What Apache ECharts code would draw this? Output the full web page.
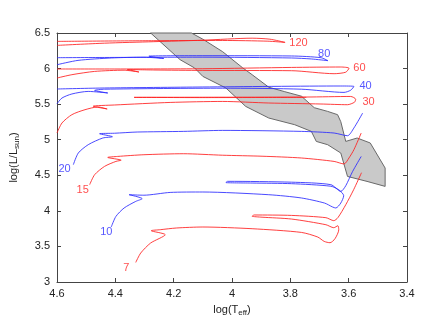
<!DOCTYPE html>
<html>
<head>
<meta charset="utf-8">
<script src="https://cdn.jsdelivr.net/npm/echarts@6/dist/echarts.min.js"></script>
<style>
  html, body { margin: 0; padding: 0; background: #fff; }
  #chart { width: 436px; height: 328px; }
</style>
</head>
<body>
<div id="chart"></div>
<script>
// evolutionary tracks: [log Teff, log L]
const track7 = [[4.330,3.275],[4.313,3.407],[4.279,3.548],[4.229,3.665],[4.277,3.721],[4.246,3.735],[4.191,3.759],[4.100,3.773],[3.931,3.749],[3.762,3.697],[3.706,3.632],[3.684,3.571],[3.664,3.552],[3.647,3.608],[3.634,3.735],[3.637,3.791],[3.651,3.763],[3.678,3.805],[3.796,3.885],[3.897,3.911],[3.931,3.925],[3.924,3.942],[3.796,3.936],[3.678,3.904],[3.651,3.862],[3.637,3.904],[3.610,4.086],[3.583,4.297],[3.556,4.536]];
const track10 = [[4.414,3.773],[4.398,3.922],[4.370,4.040],[4.330,4.133],[4.308,4.171],[4.353,4.227],[4.302,4.220],[4.212,4.259],[4.100,4.265],[3.874,4.227],[3.762,4.181],[3.683,4.110],[3.655,4.054],[3.644,4.040],[3.627,4.110],[3.617,4.213],[3.634,4.297],[3.661,4.346],[3.796,4.382],[3.931,4.391],[4.021,4.398],[4.015,4.415],[3.796,4.403],[3.661,4.368],[3.627,4.273],[3.610,4.353],[3.587,4.550],[3.557,4.765]];
const track15 = [[4.488,4.368],[4.471,4.508],[4.437,4.625],[4.398,4.695],[4.380,4.712],[4.426,4.751],[4.392,4.765],[4.302,4.789],[4.167,4.803],[4.032,4.782],[3.897,4.768],[3.762,4.743],[3.650,4.695],[3.616,4.659],[3.599,4.743],[3.582,4.860],[3.557,5.094]];
const track20 = [[4.544,4.649],[4.527,4.813],[4.493,4.930],[4.443,5.024],[4.410,5.042],[4.454,5.084],[4.403,5.091],[4.325,5.108],[4.167,5.117],[4.032,5.131],[3.762,5.117],[3.650,5.094],[3.604,5.056],[3.582,5.165],[3.552,5.375]];
const track30 = [[4.600,5.094],[4.583,5.235],[4.549,5.352],[4.504,5.422],[4.460,5.460],[4.428,5.432],[4.476,5.471],[4.403,5.488],[4.212,5.524],[4.032,5.538],[3.874,5.516],[3.695,5.502],[3.604,5.492],[3.580,5.527],[3.576,5.569],[3.593,5.608],[3.745,5.600],[4.100,5.597],[4.336,5.595],[4.334,5.590],[4.100,5.592],[3.745,5.595]];
const track40 = [[4.600,5.506],[4.583,5.586],[4.549,5.643],[4.493,5.679],[4.426,5.657],[4.471,5.693],[4.437,5.710],[4.032,5.724],[3.762,5.710],[3.616,5.665],[3.593,5.696],[3.582,5.749],[3.627,5.755],[4.100,5.741],[4.437,5.727],[4.600,5.713]];
const track60 = [[4.600,5.867],[4.549,5.914],[4.471,5.960],[4.370,5.977],[4.319,5.952],[4.359,5.987],[4.268,5.980],[4.100,5.974],[3.796,5.970],[3.650,5.928],[3.610,5.949],[3.599,6.005],[3.627,6.022],[3.796,6.016],[4.100,5.998],[4.437,5.994],[4.600,5.994]];
const track80 = [[4.600,6.054],[4.528,6.115],[4.413,6.149],[4.302,6.160],[4.234,6.142],[4.285,6.174],[4.100,6.181],[3.796,6.177],[3.695,6.153],[3.671,6.111],[3.728,6.135],[3.796,6.149],[4.100,6.160],[4.437,6.156],[4.600,6.153]];
const track120 = [[4.600,6.326],[4.437,6.357],[4.268,6.378],[4.100,6.399],[3.931,6.427],[3.870,6.413],[3.818,6.368],[3.877,6.385],[4.032,6.395],[4.268,6.392],[4.600,6.382]];

// shaded region outline
const band = [[4.279,6.5],[4.139,6.5],[4.100,6.413],[4.032,6.237],[3.964,6.012],[3.931,5.914],[3.874,5.738],[3.819,5.675],[3.762,5.612],[3.718,5.450],[3.672,5.398],[3.638,5.352],[3.627,5.253],[3.610,4.976],[3.571,5.024],[3.526,4.954],[3.475,4.602],[3.475,4.344],[3.537,4.414],[3.604,4.484],[3.627,4.813],[3.672,4.930],[3.711,4.976],[3.728,5.117],[3.785,5.211],[3.874,5.305],[3.953,5.468],[4.021,5.727],[4.100,5.890],[4.128,6.008],[4.178,6.125]];

// mass labels: [log Teff, log L, text]
const massLabels = [[3.772,6.364,'120'],[3.684,6.209,'80'],[3.563,6.008,'60'],[3.542,5.759,'40'],[3.532,5.524,'30'],[4.574,4.592,'20'],[4.512,4.297,'15'],[4.431,3.697,'10'],[4.362,3.197,'7']];

const xTicks = [4.6, 4.4, 4.2, 4, 3.8, 3.6, 3.4];
const yTicks = [3, 3.5, 4, 4.5, 5, 5.5, 6, 6.5];

const RED = '#ff1f1f';
const BLUE = '#2a2aff';

const tracks = [
    { name: '7', data: track7, color: RED },
    { name: '10', data: track10, color: BLUE },
    { name: '15', data: track15, color: RED },
    { name: '20', data: track20, color: BLUE },
    { name: '30', data: track30, color: RED },
    { name: '40', data: track40, color: BLUE },
    { name: '60', data: track60, color: RED },
    { name: '80', data: track80, color: BLUE },
    { name: '120', data: track120, color: RED }
];

const chart = echarts.init(document.getElementById('chart'));

const FONT = 'Liberation Sans, Arial, sans-serif';
const axisText = { color: '#222', fontSize: 11, fontFamily: FONT };
const frame = { show: true, lineStyle: { color: '#444', width: 1 } };

const baseX = {
    type: 'value', min: 3.4, max: 4.6, interval: 0.2, inverse: true,
    axisLine: frame,
    axisTick: { show: true, inside: true, length: 4, lineStyle: { color: '#444' } },
    splitLine: { show: false }
};
const baseY = {
    type: 'value', min: 3, max: 6.5, interval: 0.5,
    axisLine: frame,
    axisTick: { show: true, inside: true, length: 4, lineStyle: { color: '#444' } },
    splitLine: { show: false }
};

const nameRich = {
    n: { fontSize: 11, color: '#222', fontFamily: FONT, lineHeight: 14 },
    s: { fontSize: 8, color: '#222', fontFamily: FONT, lineHeight: 14, verticalAlign: 'bottom', padding: [5, 0, 0, 0] }
};

const series = [{
    type: 'custom',
    silent: true,
    z: 1,
    data: [[4, 5]],
    renderItem: function (params, api) {
        return {
            type: 'polygon',
            shape: { points: band.map(p => api.coord(p)) },
            style: { fill: '#c9c9c9', stroke: '#6a6a6a', lineWidth: 1 }
        };
    }
}];

tracks.forEach(t => {
    series.push({
        type: 'line',
        name: t.name,
        data: t.data,
        showSymbol: false,
        smooth: 0.25,
        z: 3,
        lineStyle: { color: t.color, width: 1, opacity: 0.85 }
    });
});

const redLabels = ['7', '15', '30', '60', '120'];
series.push({
    type: 'scatter',
    symbolSize: 0,
    z: 4,
    data: massLabels.map(m => ({
        value: [m[0], m[1]],
        name: m[2],
        label: { color: redLabels.includes(m[2]) ? RED : BLUE }
    })),
    label: {
        show: true,
        position: 'inside',
        formatter: p => p.name,
        fontSize: 11,
        fontFamily: FONT
    }
});

const option = {
    animation: false,
    backgroundColor: '#fff',
    grid: { left: 52, right: 29, top: 33, bottom: 46 },
    xAxis: [
        Object.assign({}, baseX, {
            position: 'bottom',
            axisLabel: Object.assign({}, axisText, { margin: 6, formatter: v => xTicks.includes(Math.round(v * 10) / 10) ? String(Math.round(v * 10) / 10) : '' }),
            name: '{n|log(T}{s|eff}{n|)}',
            nameLocation: 'middle',
            nameGap: 16,
            nameTextStyle: { rich: nameRich }
        }),
        Object.assign({}, baseX, { position: 'top', axisLabel: { show: false } })
    ],
    yAxis: [
        Object.assign({}, baseY, {
            position: 'left',
            axisLabel: Object.assign({}, axisText, { margin: 7, formatter: v => yTicks.includes(v) ? String(v) : '' }),
            name: '{n|log(L/L}{s|sun}{n|)}',
            nameLocation: 'middle',
            nameGap: 36,
            nameTextStyle: { rich: nameRich }
        }),
        Object.assign({}, baseY, { position: 'right', axisLabel: { show: false } })
    ],
    series: series
};

chart.setOption(option);
</script>
</body>
</html>
